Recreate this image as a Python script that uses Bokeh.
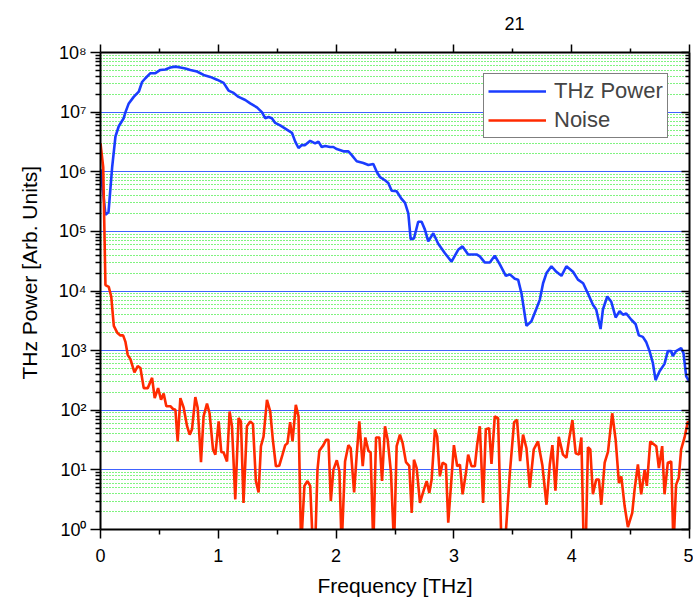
from bokeh.plotting import figure
from bokeh.models import (FixedTicker, LinearAxis, LogAxis, Legend, LegendItem, Title,
                          CustomJSTickFormatter, Range1d)
from bokeh.embed import file_html
from bokeh.resources import INLINE

# ---- data ----
freq_power = [0.000, 0.025, 0.042, 0.068, 0.099, 0.127, 0.155, 0.197, 0.212, 0.240,
              0.282, 0.325, 0.353, 0.381, 0.424, 0.466, 0.508, 0.551, 0.593, 0.636,
              0.678, 0.720, 0.763, 0.819, 0.875, 0.932, 0.989, 1.045, 1.087, 1.130,
              1.172, 1.229, 1.271, 1.328, 1.370, 1.398, 1.426, 1.455, 1.483, 1.525,
              1.582, 1.625, 1.653, 1.681, 1.709, 1.737, 1.780, 1.822, 1.850, 1.878,
              1.907, 1.949, 1.977, 2.006, 2.062, 2.104, 2.133, 2.175, 2.231, 2.274,
              2.316, 2.345, 2.373, 2.415, 2.443, 2.472, 2.514, 2.556, 2.585, 2.613,
              2.633, 2.661, 2.697, 2.726, 2.754, 2.782, 2.825, 2.867, 2.924, 2.980,
              3.036, 3.073, 3.121, 3.192, 3.220, 3.263, 3.305, 3.347, 3.390, 3.441,
              3.475, 3.517, 3.545, 3.574, 3.616, 3.658, 3.701, 3.729, 3.757, 3.786,
              3.828, 3.870, 3.913, 3.955, 4.011, 4.053, 4.097, 4.138, 4.180, 4.208,
              4.245, 4.265, 4.302, 4.336, 4.373, 4.407, 4.435, 4.463, 4.506, 4.542,
              4.570, 4.604, 4.632, 4.661, 4.689, 4.712, 4.746, 4.788, 4.816, 4.845,
              4.858, 4.886, 4.929, 4.949, 4.972, 5.000]
thz_power = [1.1e6, 4.0e5, 1.9e5, 2.1e5, 1.2e6, 3.9e6, 5.8e6, 7.9e6, 1.0e7, 1.4e7,
             1.8e7, 2.2e7, 3.2e7, 3.7e7, 4.5e7, 4.5e7, 5.1e7, 5.2e7, 5.6e7, 5.8e7,
             5.6e7, 5.4e7, 5.1e7, 4.8e7, 4.2e7, 3.9e7, 3.5e7, 3.1e7, 2.3e7, 2.1e7,
             1.8e7, 1.6e7, 1.4e7, 1.2e7, 1.0e7, 7.9e6, 8.3e6, 7.9e6, 6.6e6, 6.0e6,
             5.1e6, 4.5e6, 3.2e6, 2.5e6, 2.8e6, 2.8e6, 3.3e6, 3.0e6, 3.2e6, 2.6e6,
             2.7e6, 2.6e6, 2.6e6, 2.4e6, 2.2e6, 2.2e6, 1.9e6, 1.5e6, 1.4e6, 1.3e6,
             1.35e6, 1.0e6, 8.1e5, 7.2e5, 6.5e5, 4.8e5, 4.7e5, 3.5e5, 3.0e5, 2.0e5,
             7.4e4, 7.6e4, 1.45e5, 1.45e5, 1.07e5, 6.8e4, 9.3e4, 6.2e4, 4.3e4, 3.1e4,
             4.9e4, 5.6e4, 4.1e4, 4.1e4, 3.8e4, 3.0e4, 3.0e4, 3.9e4, 2.8e4, 1.8e4,
             1.9e4, 1.6e4, 1.55e4, 9.1e3, 2.6e3, 3.1e3, 5.1e3, 7.1e3, 1.35e4, 2.0e4,
             2.6e4, 2.1e4, 1.8e4, 2.6e4, 2.1e4, 1.55e4, 1.35e4, 9.1e3, 5.9e3, 4.9e3,
             2.3e3, 4.9e3, 8.1e3, 6.6e3, 3.6e3, 4.6e3, 4.0e3, 4.2e3, 3.3e3, 2.8e3,
             1.8e3, 1.7e3, 1.4e3, 980, 620, 320, 450, 600, 980, 980,
             810, 980, 1.1e3, 910, 370, 300]

freq_noise = [0.000, 0.023, 0.042, 0.070, 0.091, 0.113, 0.142, 0.169, 0.192, 0.212,
              0.231, 0.254, 0.288, 0.316, 0.339, 0.367, 0.401, 0.438, 0.460, 0.489,
              0.514, 0.536, 0.559, 0.593, 0.616, 0.636, 0.655, 0.678, 0.706, 0.735,
              0.757, 0.777, 0.805, 0.825, 0.853, 0.875, 0.904, 0.926, 0.955, 0.975,
              1.003, 1.025, 1.045, 1.074, 1.096, 1.116, 1.144, 1.172, 1.192, 1.214,
              1.243, 1.271, 1.294, 1.319, 1.342, 1.362, 1.384, 1.413, 1.441, 1.463,
              1.489, 1.517, 1.545, 1.568, 1.587, 1.610, 1.630, 1.658, 1.681, 1.703,
              1.731, 1.757, 1.780, 1.803, 1.822, 1.842, 1.858, 1.892, 1.915, 1.935,
              1.955, 1.977, 2.006, 2.028, 2.047, 2.076, 2.104, 2.124, 2.153, 2.175,
              2.197, 2.226, 2.248, 2.274, 2.293, 2.316, 2.339, 2.367, 2.390, 2.415,
              2.438, 2.466, 2.492, 2.514, 2.542, 2.565, 2.593, 2.621, 2.642, 2.661,
              2.684, 2.712, 2.746, 2.769, 2.791, 2.811, 2.839, 2.858, 2.881, 2.904,
              2.932, 2.952, 2.980, 3.000, 3.028, 3.051, 3.074, 3.102, 3.121, 3.150,
              3.178, 3.197, 3.220, 3.248, 3.271, 3.299, 3.319, 3.347, 3.375, 3.404,
              3.432, 3.475, 3.511, 3.536, 3.562, 3.587, 3.616, 3.644, 3.678, 3.714,
              3.751, 3.786, 3.814, 3.836, 3.862, 3.890, 3.926, 3.955, 3.977, 4.006,
              4.034, 4.062, 4.082, 4.102, 4.119, 4.138, 4.158, 4.180, 4.208, 4.231,
              4.251, 4.280, 4.308, 4.344, 4.373, 4.401, 4.421, 4.449, 4.477, 4.514,
              4.534, 4.562, 4.590, 4.619, 4.638, 4.667, 4.718, 4.740, 4.768, 4.788,
              4.816, 4.845, 4.864, 4.886, 4.909, 4.929, 4.958, 4.986, 5.000]
noise = [3.0e6, 1.2e6, 1.26e4, 1.17e4, 8.1e3, 2.6e3, 2.0e3, 1.8e3, 1.8e3, 1.4e3,
         850, 720, 430, 550, 510, 235, 235, 350, 160, 235,
         150, 190, 117, 117, 105, 102, 30, 160, 110, 54,
         39, 48, 166, 110, 13.5, 79, 129, 89, 22, 18,
         65, 20, 19.5, 13.8, 95, 54, 3.2, 74, 65, 2.8,
         54, 65, 59, 6.5, 4.2, 25, 36, 150, 95, 32,
         11.5, 11.7, 18, 26, 28, 63, 30, 123, 79, 0.5,
         5.4, 6.5, 5.4, 0.5, 0.5, 10, 21, 26, 32, 32,
         3.0, 10, 14.5, 9.5, 0.5, 13.8, 26, 23, 4.2, 18,
         65, 11.5, 35, 21, 19.5, 0.5, 35, 35, 6.5, 54,
         32, 8.9, 0.5, 25, 39, 28, 13.5, 11.7, 1.9, 14.8,
         10.7, 2.8, 4.7, 6.5, 4.1, 6.9, 48, 36, 7.8, 13.2,
         12.3, 1.3, 7.4, 26, 11.5, 12.3, 3.9, 8.9, 18, 11.5,
         11.5, 26, 54, 2.8, 48, 50, 12.6, 79, 74, 0.5,
         0.5, 8.9, 63, 69, 14, 39, 23, 5.0, 22, 30,
         12, 2.6, 12.3, 26, 4.5, 36, 18, 16, 32, 68,
         19, 18, 35, 0.5, 0.5, 24, 22, 3.9, 6.9, 6.9,
         2.6, 13.2, 20, 89, 32, 6.0, 7.8, 2.5, 1.1, 1.9,
         4.7, 12.3, 3.9, 10, 5.4, 30, 25, 10.7, 25, 3.9,
         13.2, 13.8, 0.5, 5.6, 7.4, 22, 35, 65, 58]

x_major = [0, 1, 2, 3, 4, 5]
x_minor = [0.5, 1.5, 2.5, 3.5, 4.5]
decades = list(range(0, 9))

FONT = "Liberation Sans"

y_major = [10.0 ** d for d in decades]
y_minor = [m * 10.0 ** d for d in decades[:-1] for m in range(2, 10)]

p = figure(width=693, height=602, x_range=Range1d(0, 5), y_range=Range1d(1, 1e8),
           y_axis_type="log", output_backend="svg", toolbar_location=None,
           min_border_left=99, min_border_right=4, min_border_top=52,
           min_border_bottom=73)
p.outline_line_color = None
p.background_fill_color = "white"

xt = FixedTicker(ticks=x_major, minor_ticks=x_minor)
yt = FixedTicker(ticks=y_major, minor_ticks=y_minor)

sup_fmt = CustomJSTickFormatter(code="""
const sup = {"0":"\u2070","1":"\u00b9","2":"\u00b2","3":"\u00b3","4":"\u2074",
             "5":"\u2075","6":"\u2076","7":"\u2077","8":"\u2078","9":"\u2079","-":"\u207b"};
const e = Math.round(Math.log10(tick));
return "10" + String(e).split("").map(c => sup[c]).join("");
""")
blank_fmt = CustomJSTickFormatter(code="return '';")

def style_axis(ax, labels=True):
    ax.axis_line_color = "black"
    ax.axis_line_width = 2
    ax.major_tick_line_color = "black"
    ax.major_tick_line_width = 1.5
    ax.minor_tick_line_color = "black"
    ax.minor_tick_line_width = 1.5
    ax.major_label_text_font = FONT
    ax.major_label_text_color = "black"
    ax.major_label_text_font_size = "18px"
    ax.axis_label_text_font = FONT
    ax.axis_label_text_font_style = "normal"
    ax.axis_label_text_font_size = "21px"
    ax.axis_label_text_color = "black"
    if not labels:
        ax.formatter = blank_fmt
        ax.major_label_text_font_size = "1px"
        ax.major_label_standoff = 0

# bottom axis
bx = p.xaxis[0]
bx.ticker = xt
style_axis(bx)
bx.major_tick_out = 9
bx.major_tick_in = 0
bx.minor_tick_out = 5
bx.minor_tick_in = 0
bx.major_label_standoff = 10
bx.axis_label = "Frequency [THz]"
bx.axis_label_standoff = 9

# left axis
ly = p.yaxis[0]
ly.ticker = yt
ly.formatter = sup_fmt
style_axis(ly)
ly.major_tick_out = 10
ly.major_tick_in = 0
ly.minor_tick_out = 5
ly.minor_tick_in = 0
ly.major_label_standoff = 4

# top axis
tx = LinearAxis(ticker=xt)
style_axis(tx, labels=False)
tx.major_tick_out = 8
tx.major_tick_in = 0
tx.minor_tick_out = 4
tx.minor_tick_in = 0
p.add_layout(tx, "above")

# right axis
ry = LogAxis(ticker=yt)
style_axis(ry, labels=False)
ry.major_tick_out = 0
ry.major_tick_in = 8
ry.minor_tick_out = 0
ry.minor_tick_in = 4
p.add_layout(ry, "right")

# grids
p.xgrid.visible = False
g = p.ygrid[0]
g.ticker = yt
g.grid_line_color = "#4062ff"
g.grid_line_width = 1.2
g.minor_grid_line_color = "#00e600"
g.minor_grid_line_width = 1
g.minor_grid_line_dash = "1 2"

r1 = p.line(freq_power, thz_power, line_color="#1a3cff", line_width=2.6)
r2 = p.line(freq_noise, noise, line_color="#ff2a00", line_width=2.6)

legend = Legend(items=[LegendItem(label="THz Power", renderers=[r1]),
                       LegendItem(label="Noise", renderers=[r2])],
                location=(383, 391), margin=0, padding=4, spacing=3,
                glyph_width=58, glyph_height=24, label_height=24, label_standoff=8,
                label_text_font=FONT, label_text_font_size="22px",
                border_line_color="black", border_line_width=1,
                background_fill_color="white", background_fill_alpha=1)
p.add_layout(legend)

# y-axis title (starts 150 px above the frame bottom, as in the reference)
p.add_layout(Title(text="THz Power [Arb. Units]", align="left", offset=150,
                   standoff=30, text_font=FONT, text_font_size="21px",
                   text_font_style="normal", text_color="black"), "left")
# page number at the top
p.add_layout(Title(text="21", align="left", offset=404, standoff=29,
                   text_font=FONT, text_font_size="18px",
                   text_font_style="normal", text_color="black"), "above")

open("out.html", "w").write(file_html(p, INLINE))
